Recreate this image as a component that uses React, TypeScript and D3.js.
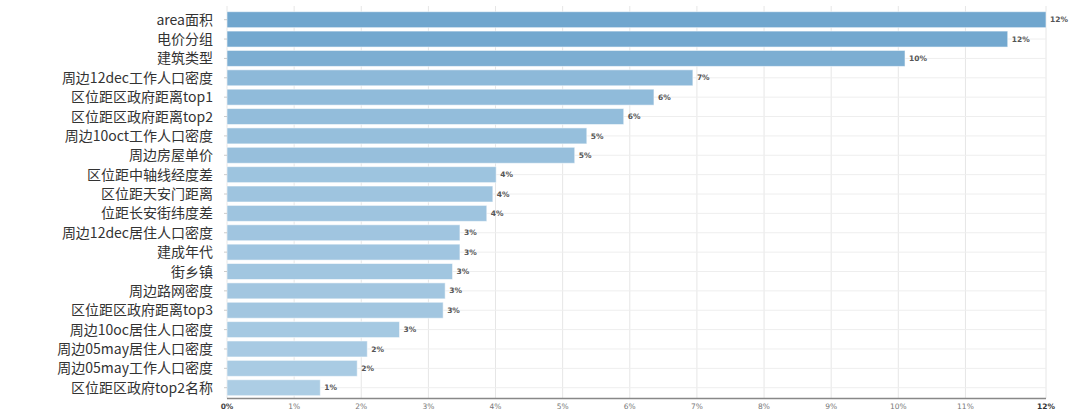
import React from "react";
import * as d3 from "d3";

const categories: string[] = [
  "area面积",
  "电价分组",
  "建筑类型",
  "周边12dec工作人口密度",
  "区位距区政府距离top1",
  "区位距区政府距离top2",
  "周边10oct工作人口密度",
  "周边房屋单价",
  "区位距中轴线经度差",
  "区位距天安门距离",
  "位距长安街纬度差",
  "周边12dec居住人口密度",
  "建成年代",
  "街乡镇",
  "周边路网密度",
  "区位距区政府距离top3",
  "周边10oc居住人口密度",
  "周边05may居住人口密度",
  "周边05may工作人口密度",
  "区位距区政府top2名称",
];

const importance: number[] = [
  12.2, 11.63, 10.1, 6.94, 6.36, 5.91, 5.36, 5.18, 4.01, 3.96, 3.87, 3.47, 3.47,
  3.36, 3.25, 3.22, 2.57, 2.09, 1.94, 1.39,
];

const tickValues: number[] = [0, 1, 2, 3, 4, 5, 6, 7, 8, 9, 10, 11];
const axisMax = 12.2;

const W = 1080;
const H = 416;
const left = 227;
const right = 1046;
const top = 10;
const bottom = 397.4;

export default function App() {
  const x = d3.scaleLinear().domain([0, axisMax]).range([left, right]);
  const y = d3
    .scaleBand<string>()
    .domain(categories)
    .range([top, bottom])
    .paddingInner(0.175)
    .paddingOuter(0.0875);
  const color = d3
    .scaleLinear<string>()
    .domain([d3.min(importance)!, d3.max(importance)!])
    .range(["#accde4", "#70a6ce"]);
  const fmt = (v: number) => `${Math.round(v)}%`;
  const axisY = 398.5;

  return (
    <svg
      width={W}
      height={H}
      style={{ position: "fixed", left: 0, top: 0, background: "#fff" }}
    >
      {tickValues.concat([axisMax]).map((t) => (
        <line
          key={"vg" + t}
          x1={x(t)}
          x2={x(t)}
          y1={6}
          y2={axisY}
          stroke="#e6e6e6"
          strokeWidth={1}
        />
      ))}
      {categories.map((c) => (
        <line
          key={"hg" + c}
          x1={left}
          x2={right}
          y1={y(c)! + y.bandwidth() / 2}
          y2={y(c)! + y.bandwidth() / 2}
          stroke="#eeeeee"
          strokeWidth={1}
        />
      ))}
      {categories.map((c, i) => (
        <rect
          key={"b" + c}
          x={x(0)}
          y={y(c)!}
          width={x(importance[i]) - x(0)}
          height={y.bandwidth()}
          fill={color(importance[i])}
          stroke="rgba(255,255,255,0.55)"
          strokeWidth={1}
        />
      ))}
      {categories.map((c, i) => (
        <text
          key={"v" + c}
          x={x(importance[i]) + 4}
          y={y(c)! + y.bandwidth() / 2}
          dy="0.35em"
          fontFamily="'DejaVu Sans', Verdana, sans-serif"
          fontSize={7.5}
          fontWeight="bold"
          fill="#555"
        >
          {fmt(importance[i])}
        </text>
      ))}
      {categories.map((c) => (
        <text
          key={"c" + c}
          x={213}
          y={y(c)! + y.bandwidth() / 2}
          dy="0.36em"
          textAnchor="end"
          fontFamily="'Noto Sans CJK SC', 'Noto Sans', sans-serif"
          fontSize={14}
          fill="#333"
        >
          {c}
        </text>
      ))}
      {categories.map((c) => (
        <line
          key={"lt" + c}
          x1={left - 3}
          x2={left}
          y1={y(c)! + y.bandwidth() / 2}
          y2={y(c)! + y.bandwidth() / 2}
          stroke="#ccc"
        />
      ))}
      <line
        x1={left}
        x2={right}
        y1={axisY}
        y2={axisY}
        stroke="#888"
        strokeWidth={1.5}
      />
      {tickValues.map((t) => (
        <text
          key={"t" + t}
          x={x(t)}
          y={406}
          dy="0.35em"
          textAnchor="middle"
          fontFamily="'DejaVu Sans', Verdana, sans-serif"
          fontSize={7.5}
          fontWeight={t === 0 ? "bold" : "normal"}
          fill={t === 0 ? "#444" : "#777"}
        >
          {t}%
        </text>
      ))}
      <text
        x={x(axisMax)}
        y={406}
        dy="0.35em"
        textAnchor="middle"
        fontFamily="'DejaVu Sans', Verdana, sans-serif"
        fontSize={7.5}
        fontWeight="bold"
        fill="#333"
      >
        {fmt(axisMax)}
      </text>
    </svg>
  );
}
